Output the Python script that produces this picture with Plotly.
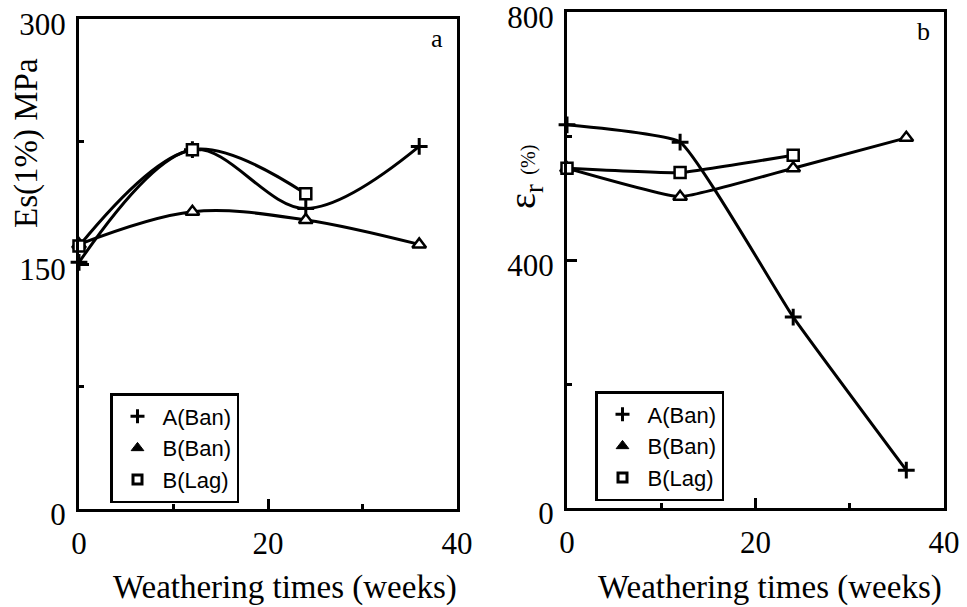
import plotly.graph_objects as go

# ---- data ----
weeks = [0, 12, 24, 36]
weeks_lag = [0, 12, 24]

# panel a: Es(1%) MPa
es_A_ban = [151, 220, 184, 222]
es_B_ban = [162, 182, 177, 162]
es_B_lag = [161, 220, 193]

# panel b: elongation at break (%)
er_A_ban = [618, 590, 308, 61]
er_B_ban = [548, 502, 548, 597]
er_B_lag = [548, 541, 569]

series_names = ["A(Ban)", "B(Ban)", "B(Lag)"]

W, H = 967, 607
SERIF = "Liberation Serif, Times New Roman, serif"
SANS = "Liberation Sans, Arial, sans-serif"

fig = go.Figure()

sym = {
    "A(Ban)": dict(symbol="cross-thin", size=12, color="black", line=dict(color="black", width=3)),
    "B(Ban)": dict(symbol="triangle-up", size=12, color="white", line=dict(color="black", width=2.5)),
    "B(Lag)": dict(symbol="square", size=11, color="white", line=dict(color="black", width=2.5)),
}
leg_sym = {
    "A(Ban)": dict(symbol="cross-thin", size=10, color="black", line=dict(color="black", width=3)),
    "B(Ban)": dict(symbol="triangle-up", size=11, color="black", line=dict(color="black", width=1)),
    "B(Lag)": dict(symbol="square", size=9, color="white", line=dict(color="black", width=3)),
}

def add_panel(xa, ya, data, smoothing, legend):
    for name, xs, ys in data:
        fig.add_trace(go.Scatter(
            x=xs, y=ys, mode="lines+markers", xaxis=xa, yaxis=ya,
            line=dict(color="black", width=3, shape="spline", smoothing=smoothing),
            marker=sym[name], showlegend=False, cliponaxis=False))
    for name, xs, ys in data:
        fig.add_trace(go.Scatter(
            x=[None], y=[None], mode="markers", xaxis=xa, yaxis=ya,
            marker=leg_sym[name], name=name, legend=legend, showlegend=True))

add_panel("x", "y", [("A(Ban)", weeks, es_A_ban), ("B(Ban)", weeks, es_B_ban),
                     ("B(Lag)", weeks_lag, es_B_lag)], 1.0, "legend")
add_panel("x2", "y2", [("A(Ban)", weeks, er_A_ban), ("B(Ban)", weeks, er_B_ban),
                       ("B(Lag)", weeks_lag, er_B_lag)], 0.35, "legend2")

def px_x(p):
    return p / W

def px_y(p):
    return 1 - p / H

axis_common = dict(
    showgrid=False, zeroline=False, showline=True, mirror=True, automargin=False,
    ticklabeloverflow="allow",
    linecolor="black", linewidth=3, ticks="inside", ticklen=10, tickwidth=2.5,
    tickcolor="black", tickfont=dict(family=SERIF, size=31, color="black"),
)
minor_common = dict(ticklen=5, tickwidth=2.5, ticks="inside", tickcolor="black")
xaxis_extra = dict(ticklabelstandoff=5)
yaxis_extra = dict(ticklabelshift=5, ticklabelstandoff=4)

def ann(text, x, y, size, angle=0):
    return dict(text=text, x=px_x(x), y=px_y(y), xref="paper", yref="paper",
                xanchor="center", yanchor="middle", textangle=angle, showarrow=False,
                font=dict(family=SERIF, size=size, color="black"))

legend_common = dict(xanchor="left", yanchor="top", bordercolor="black", borderwidth=2.5,
                     bgcolor="white", font=dict(family=SANS, size=22, color="black"),
                     itemwidth=40)

fig.update_layout(
    width=W, height=H, margin=dict(l=0, r=0, t=0, b=0, autoexpand=False),
    paper_bgcolor="white", plot_bgcolor="white",
    xaxis=dict(domain=[px_x(79), px_x(457)], range=[0, 40], tickvals=[0, 20, 40],
               minor=dict(tickvals=[10, 30], **minor_common), anchor="y",
               **axis_common, **xaxis_extra),
    yaxis=dict(domain=[px_y(509), px_y(19)], range=[0, 300], tickvals=[0, 150, 300],
               minor=dict(tickvals=[75, 225], **minor_common), anchor="x",
               **axis_common, **yaxis_extra),
    xaxis2=dict(domain=[px_x(567), px_x(944)], range=[0, 40], tickvals=[0, 20, 40],
                minor=dict(tickvals=[10, 30], **minor_common), anchor="y2",
                **axis_common, **xaxis_extra),
    yaxis2=dict(domain=[px_y(508), px_y(12)], range=[0, 800], tickvals=[0, 400, 800],
                minor=dict(tickvals=[200, 600], **minor_common), anchor="x2",
                **axis_common, **yaxis_extra),
    legend=dict(x=px_x(110), y=px_y(393), **legend_common),
    legend2=dict(x=px_x(595), y=px_y(391), **legend_common),
    annotations=[
        ann("Es(1%) MPa", 27, 143, 33, -90),
        ann("ε<sub>r</sub> <span style='font-size:20px'>(%)</span>", 525, 177, 38, -90),
        ann("Weathering times (weeks)", 285, 587, 33),
        ann("Weathering times (weeks)", 770, 587, 33),
        ann("a", 437, 38, 26),
        ann("b", 923, 32, 26),
    ],
)

fig.write_html("out.html")
